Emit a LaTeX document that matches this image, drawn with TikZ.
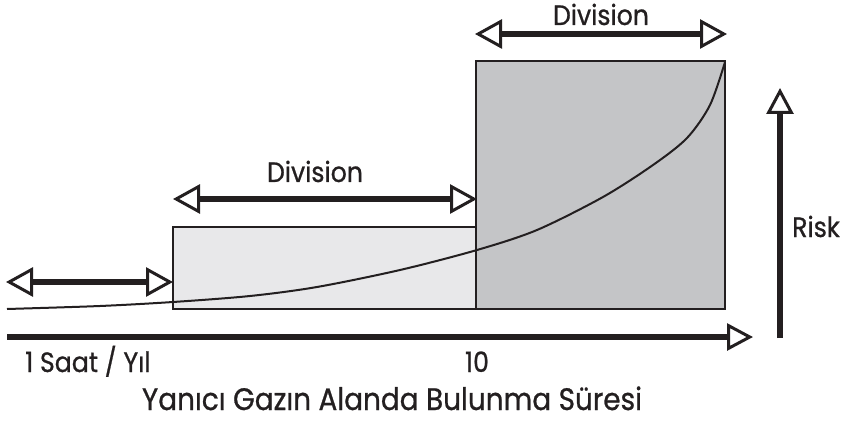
\documentclass[tikz,border=0pt]{standalone}
\usepackage{fontspec}
\setmainfont{Poppins}[FakeStretch=0.9,FakeBold=0.8]
\usetikzlibrary{arrows.meta}
\definecolor{ink}{HTML}{231F20}
\definecolor{lightbox}{HTML}{E8E8EA}
\definecolor{darkbox}{HTML}{C4C5C7}
\tikzset{
  tipopen/.tip={Triangle[open,length=27pt,width=29pt,line width=3pt]},
  dimarrow/.style={draw=ink,line width=6pt,{tipopen}-{tipopen}},
  axisarrow/.style={draw=ink,line width=6pt,-{Triangle[open,length=26pt,width=27pt,line width=3pt]}},
  region/.style={draw=ink,line width=2pt},
  lbl/.style={text=ink,inner sep=0pt,font=\fontsize{28}{30}\selectfont},
  titlelbl/.style={lbl,font=\fontsize{31}{33}\selectfont},
}
\begin{document}
\begin{tikzpicture}[x=1pt,y=-1pt]
\useasboundingbox (0,0) rectangle (843,422);
% boxes
\draw[region,fill=lightbox] (173,227) rectangle (476,309);
\draw[region,fill=darkbox] (476,61) rectangle (725,309);
% curve
\draw[ink,line width=2pt] plot[smooth,tension=0.5] coordinates {(7,309) (100,306) (173,302) (250,296) (317,287) (400,270) (477,250) (537,230) (603,197) (653,165) (687,138) (710,105) (725,62)};
% dimension arrows
\coordinate (l1) at (6,282);
\coordinate (l2) at (173,282);
\coordinate (m1) at (173,199);
\coordinate (m2) at (477,199);
\coordinate (t1) at (475,34);
\coordinate (t2) at (727,34);
\draw[dimarrow] (l1) -- (l2);
\draw[dimarrow] (m1) -- (m2);
\draw[dimarrow] (t1) -- (t2);
% axes
\coordinate (ax0) at (7,337);
\coordinate (ax1) at (753,337);
\coordinate (r0) at (780,338);
\coordinate (r1) at (780,88);
\draw[axisarrow] (ax0) -- (ax1);
\draw[axisarrow] (r0) -- (r1);
% labels
\node[lbl,anchor=base] (divm) at (315,182) {Division};
\node[lbl,anchor=base] (divt) at (601,25) {Division};
\node[lbl,anchor=base west] (risk) at (792,237) {Risk};
\node[lbl,anchor=base west] (one) at (25,372) {1 Saat / Yıl};
\node[lbl,anchor=base] (ten) at (477,372) {10};
\node[titlelbl,anchor=base] (title) at (392,410) {Yanıcı Gazın Alanda Bulunma Süresi};
\end{tikzpicture}
\end{document}
